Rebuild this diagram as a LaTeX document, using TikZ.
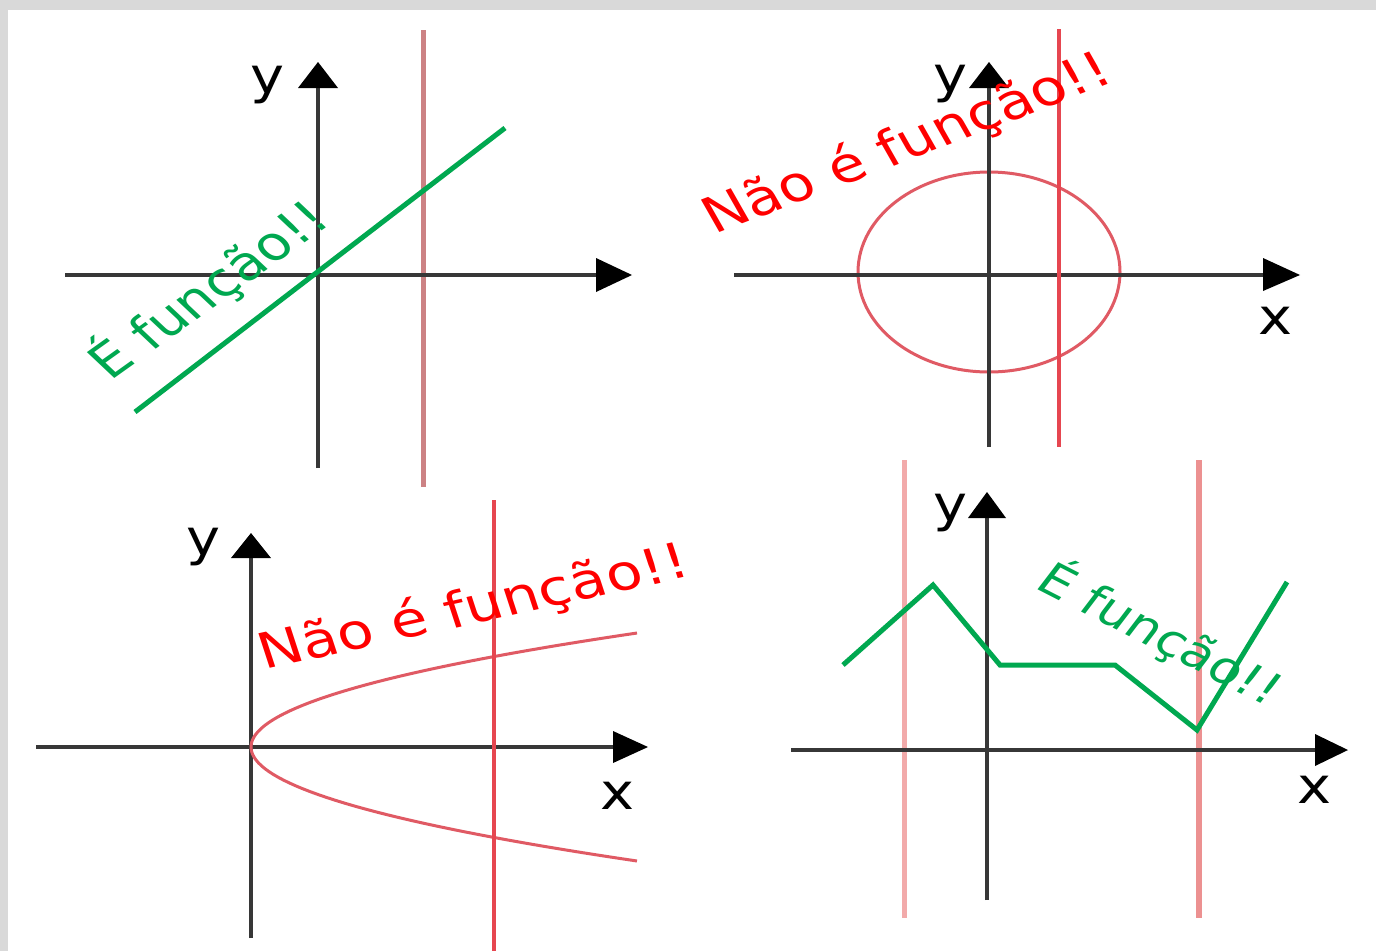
\documentclass[tikz,border=0pt]{standalone}
\usepackage{fontspec}
\setmainfont{DejaVu Sans}
\definecolor{bordergray}{RGB}{217,217,217}
\definecolor{axisgray}{RGB}{55,55,55}
\definecolor{fgreen}{RGB}{0,168,80}
\definecolor{dusky}{RGB}{204,130,132}
\definecolor{lred}{RGB}{230,70,80}
\definecolor{cred}{RGB}{224,90,100}
\definecolor{pink1}{RGB}{242,170,170}
\definecolor{pink2}{RGB}{236,145,145}
\newcommand\fsz[1]{\fontsize{#1}{#1}\selectfont}
\tikzset{
  axisline/.style={draw=axisgray, line width=4pt},
  tiphead/.style={fill=black, draw=none},
  lbl/.style={inner sep=0pt, font=\fsz{50}, xscale=1.15},
  msg/.style={inner sep=0pt, anchor=base west},
}
\begin{document}
\begin{tikzpicture}[x=1pt,y=-1pt]
\useasboundingbox (0,0) rectangle (1376,951);
\fill[bordergray] (0,0) rectangle (1376,951);
\fill[white] (8,10) rectangle (1376,951);

% ---------- Panel 1 ----------
\draw[dusky, line width=5pt] (423,30) -- (423,487);
\draw[axisline] (65,275) -- (597,275);
\fill[tiphead] (596,258) -- (632,275) -- (596,292) -- cycle;
\draw[axisline] (318,468) -- (318,87);
\fill[tiphead] (298,88) -- (318,62) -- (338,88) -- cycle;
\node[lbl] (y1) at (268,85) {y};
\draw[fgreen, line width=5pt] (135,412) -- (505,128);
\node[msg, text=fgreen, font=\fsz{47}, xscale=1.22, rotate=41] (t1) at (110,382) {É função!!};

% ---------- Panel 2 ----------
\draw[cred, line width=3pt] (989,272) ellipse [x radius=131pt, y radius=100pt];
\draw[axisline] (734,275) -- (1264,275);
\fill[tiphead] (1263,258) -- (1300,275) -- (1263,291) -- cycle;
\draw[axisline] (989,447) -- (989,87);
\fill[tiphead] (969,88) -- (989,62) -- (1009,88) -- cycle;
\draw[lred, line width=3.5pt] (1059,29) -- (1059,447);
\node[lbl] (y2) at (951,84) {y};
\node[lbl] (x2) at (1275,321) {x};
\node[msg, text=red, font=\fsz{49}, xscale=1.22, rotate=25] (t2) at (714,235) {Não é função!!};

% ---------- Panel 3 ----------
\draw[axisline] (36,747) -- (614,747);
\fill[tiphead] (613,731) -- (648,747) -- (613,763) -- cycle;
\draw[axisline] (251,938) -- (251,557);
\fill[tiphead] (231,558) -- (251,533) -- (271,558) -- cycle;
\draw[cred, line width=3pt] plot[domain=-114:114, samples=80] ({251+386*(\x/114)^2}, {747+\x});
\draw[lred, line width=4pt] (494,500) -- (494,951);
\node[lbl] (y3) at (204,547) {y};
\node[lbl] (x3) at (618,796) {x};
\node[msg, text=red, font=\fsz{49}, xscale=1.22, rotate=15] (t3) at (264,670) {Não é função!!};

% ---------- Panel 4 ----------
\draw[pink1, line width=5pt] (904,460) -- (904,918);
\draw[pink2, line width=6pt] (1199,460) -- (1199,918);
\draw[axisline] (791,750) -- (1316,750);
\fill[tiphead] (1315,734) -- (1348,750) -- (1315,766) -- cycle;
\draw[axisline] (987,900) -- (987,517);
\fill[tiphead] (968,518) -- (987,492) -- (1006,518) -- cycle;
\node[lbl] (y4) at (951,513) {y};
\node[lbl] (x4) at (1314,790) {x};
\draw[fgreen, line width=5pt, line join=miter]
  (843,665) -- (933,585) -- (1000,665) -- (1115,665) -- (1197,730) -- (1287,582);
\node[msg, text=fgreen, font=\fsz{44}, xscale=1.22, rotate=-32] (t4) at (1033,587) {É função!!};
\end{tikzpicture}
\end{document}
